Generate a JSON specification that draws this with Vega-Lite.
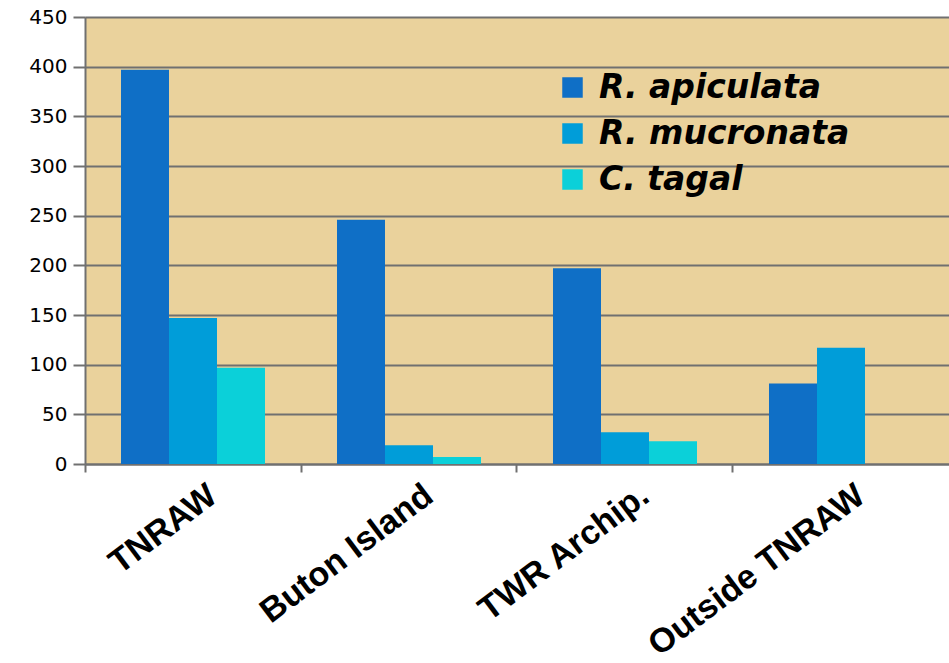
{
  "$schema": "https://vega.github.io/schema/vega-lite/v6.json",
  "width": 864,
  "height": 447,
  "autosize": {"type": "none"},
  "padding": {"left": 85, "top": 17, "right": 0, "bottom": 199},
  "background": "white",
  "data": {
    "values": [
      {"site": "TNRAW", "species": "R. apiculata", "value": 397},
      {"site": "TNRAW", "species": "R. mucronata", "value": 147},
      {"site": "TNRAW", "species": "C. tagal", "value": 97},
      {"site": "Buton Island", "species": "R. apiculata", "value": 246},
      {"site": "Buton Island", "species": "R. mucronata", "value": 19},
      {"site": "Buton Island", "species": "C. tagal", "value": 7},
      {"site": "TWR Archip.", "species": "R. apiculata", "value": 197},
      {"site": "TWR Archip.", "species": "R. mucronata", "value": 32},
      {"site": "TWR Archip.", "species": "C. tagal", "value": 23},
      {"site": "Outside TNRAW", "species": "R. apiculata", "value": 81},
      {"site": "Outside TNRAW", "species": "R. mucronata", "value": 117},
      {"site": "Outside TNRAW", "species": "C. tagal", "value": 0}
    ]
  },
  "mark": {"type": "bar"},
  "encoding": {
    "x": {
      "field": "site",
      "type": "nominal",
      "sort": ["TNRAW", "Buton Island", "TWR Archip.", "Outside TNRAW"],
      "scale": {"paddingInner": 0.33333, "paddingOuter": 0.16667},
      "axis": {
        "title": null,
        "labelAngle": -37,
        "labelFont": "Liberation Sans",
        "labelFontWeight": "bold",
        "labelFontSize": 34,
        "labelColor": "black",
        "labelPadding": 6,
        "labelOffset": 10,
        "labelLimit": 0,
        "bandPosition": -0.25,
        "tickSize": 8,
        "tickWidth": 2,
        "tickColor": "#707070",
        "domainColor": "#707070",
        "domainWidth": 2,
        "grid": false,
        "labelOverlap": false
      }
    },
    "xOffset": {
      "field": "species",
      "type": "nominal",
      "sort": ["R. apiculata", "R. mucronata", "C. tagal"],
      "scale": {"paddingInner": 0, "paddingOuter": 0}
    },
    "y": {
      "field": "value",
      "type": "quantitative",
      "scale": {"domain": [0, 450], "nice": false},
      "axis": {
        "title": null,
        "values": [0, 50, 100, 150, 200, 250, 300, 350, 400, 450],
        "labelFont": "DejaVu Sans",
        "labelFontSize": 20,
        "labelColor": "black",
        "labelPadding": 6,
        "tickSize": 12,
        "tickWidth": 2,
        "tickColor": "#707070",
        "domainColor": "#707070",
        "domainWidth": 2,
        "grid": true,
        "gridColor": "#707070",
        "gridWidth": 2,
        "gridOpacity": 1
      }
    },
    "color": {
      "field": "species",
      "type": "nominal",
      "sort": ["R. apiculata", "R. mucronata", "C. tagal"],
      "scale": {
        "domain": ["R. apiculata", "R. mucronata", "C. tagal"],
        "range": ["#0F6FC6", "#009DD9", "#0BD0D9"]
      },
      "legend": {
        "title": null,
        "orient": "none",
        "legendX": 471,
        "legendY": 54,
        "padding": 0,
        "symbolType": "square",
        "symbolSize": 420,
        "symbolStrokeWidth": 0,
        "symbolOpacity": 1,
        "labelFont": "DejaVu Sans",
        "labelFontWeight": "bold",
        "labelFontStyle": "italic",
        "labelFontSize": 33,
        "labelColor": "black",
        "labelOffset": 10,
        "labelLimit": 0,
        "rowPadding": 12
      }
    }
  },
  "config": {
    "view": {"fill": "#EAD29C", "stroke": null}
  }
}
